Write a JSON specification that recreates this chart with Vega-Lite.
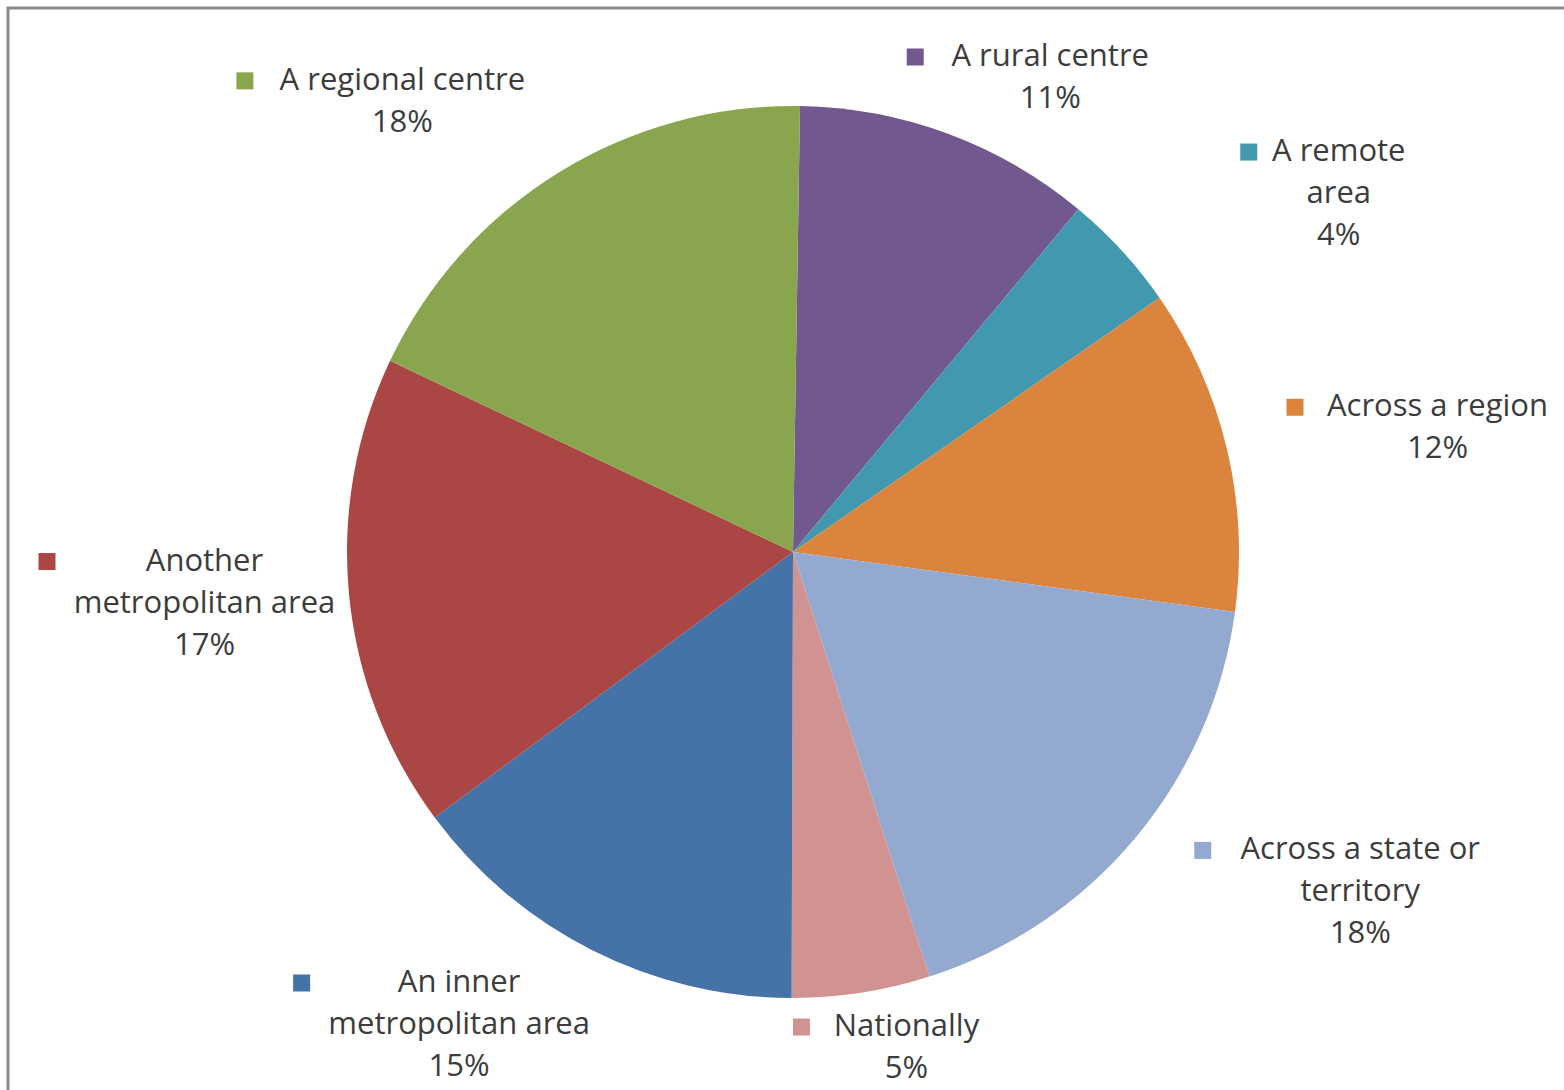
{
  "$schema": "https://vega.github.io/schema/vega-lite/v6.json",
  "width": 1570,
  "height": 1088,
  "autosize": {"type": "none"},
  "padding": {"left": 8, "top": 8, "right": 0, "bottom": 0},
  "background": "white",
  "config": {"view": {"stroke": "#8a8a8a", "strokeWidth": 3, "fill": "white"}},
  "data": {
    "values": [
      {"category": "A rural centre", "wrap": "A rural centre", "value": 10.8, "ord": 1},
      {"category": "A remote area", "wrap": "A remote\narea", "value": 4.3, "ord": 2},
      {"category": "Across a region", "wrap": "Across a region", "value": 11.8, "ord": 3},
      {"category": "Across a state or territory", "wrap": "Across a state or\nterritory", "value": 17.9, "ord": 4},
      {"category": "Nationally", "wrap": "Nationally", "value": 5.0, "ord": 5},
      {"category": "An inner metropolitan area", "wrap": "An inner\nmetropolitan area", "value": 14.8, "ord": 6},
      {"category": "Another metropolitan area", "wrap": "Another\nmetropolitan area", "value": 17.2, "ord": 7},
      {"category": "A regional centre", "wrap": "A regional centre", "value": 18.2, "ord": 8}
    ]
  },
  "transform": [
    {"joinaggregate": [{"op": "sum", "field": "value", "as": "total"}]},
    {"stack": "value", "groupby": [], "sort": [{"field": "ord", "order": "ascending"}], "as": ["v0", "v1"]},
    {"calculate": "0.0157 + 2*PI*((datum.v0 + datum.v1)/2)/datum.total", "as": "ang"},
    {"calculate": "datum.wrap + '\\n' + format(datum.value/datum.total, '.0%')", "as": "txt"},
    {"calculate": "length(split(datum.wrap, '\\n')[0])", "as": "l0"},
    {"calculate": "length(split(datum.wrap, '\\n')[1] || '')", "as": "l1"},
    {"calculate": "length(split(datum.txt, '\\n'))", "as": "nl"},
    {"calculate": "max(datum.l0, datum.l1) * 7.5", "as": "hw"},
    {"calculate": "clamp(740*sin(datum.ang), datum.hw - 716, 757 - datum.hw)", "as": "cx"},
    {"calculate": "clamp(530*cos(datum.ang), -538 + datum.nl*21, 516 - datum.nl*21)", "as": "cy"},
    {"calculate": "datum.cx - datum.hw - 30", "as": "sx"},
    {"calculate": "datum.cy + (datum.nl - 1)*21", "as": "sy"}
  ],
  "layer": [
    {
      "mark": {"type": "arc", "outerRadius": 446, "strokeWidth": 0},
      "encoding": {
        "theta": {"field": "value", "type": "quantitative", "stack": true, "scale": {"range": [0.0157, 6.2989], "nice": false, "zero": true}},
        "color": {
          "field": "category", "type": "nominal", "legend": null,
          "scale": {
            "domain": ["A rural centre", "A remote area", "Across a region", "Across a state or territory", "Nationally", "An inner metropolitan area", "Another metropolitan area", "A regional centre"],
            "range": ["#71588F", "#4198AF", "#DB843D", "#93A9CF", "#D19392", "#4572A7", "#AA4643", "#89A54E"]
          }
        },
        "order": {"field": "ord", "type": "quantitative"}
      }
    },
    {
      "mark": {"type": "text", "align": "center", "baseline": "middle", "font": "Open Sans", "fontSize": 31, "lineHeight": 42, "lineBreak": "\n", "color": "#3c3c3c"},
      "encoding": {
        "x": {"field": "cx", "type": "quantitative", "axis": null, "scale": {"domain": [-785, 785], "nice": false, "zero": false}},
        "y": {"field": "sy", "type": "quantitative", "axis": null, "scale": {"domain": [-544, 544], "nice": false, "zero": false}},
        "text": {"field": "txt", "type": "nominal"}
      }
    },
    {
      "mark": {"type": "point", "shape": "square", "filled": true, "size": 289, "opacity": 1, "strokeWidth": 0},
      "encoding": {
        "x": {"field": "sx", "type": "quantitative"},
        "y": {"field": "sy", "type": "quantitative"},
        "color": {"field": "category", "type": "nominal", "legend": null}
      }
    }
  ]
}
